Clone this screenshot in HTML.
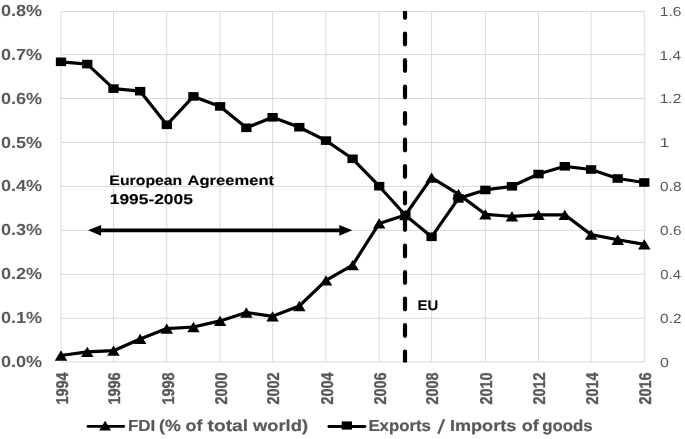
<!DOCTYPE html>
<html><head><meta charset="utf-8"><style>
html,body{margin:0;padding:0;background:#fff;width:685px;height:439px;overflow:hidden}
svg{display:block;will-change:transform;text-rendering:geometricPrecision}
text{font-family:"Liberation Sans",sans-serif}
</style></head><body>
<svg width="685" height="439" viewBox="0 0 685 439">
<defs><clipPath id="pc"><rect x="58.0" y="10.9" width="589.3" height="351.6"/></clipPath></defs>
<line x1="61.0" y1="361.90" x2="644.30" y2="361.90" stroke="#d9d9d9" stroke-width="1"/>
<line x1="61.0" y1="318.30" x2="644.30" y2="318.30" stroke="#d9d9d9" stroke-width="1"/>
<line x1="61.0" y1="274.40" x2="644.30" y2="274.40" stroke="#d9d9d9" stroke-width="1"/>
<line x1="61.0" y1="230.40" x2="644.30" y2="230.40" stroke="#d9d9d9" stroke-width="1"/>
<line x1="61.0" y1="186.40" x2="644.30" y2="186.40" stroke="#d9d9d9" stroke-width="1"/>
<line x1="61.0" y1="142.50" x2="644.30" y2="142.50" stroke="#d9d9d9" stroke-width="1"/>
<line x1="61.0" y1="98.50" x2="644.30" y2="98.50" stroke="#d9d9d9" stroke-width="1"/>
<line x1="61.0" y1="54.60" x2="644.30" y2="54.60" stroke="#d9d9d9" stroke-width="1"/>
<line x1="61.0" y1="11.50" x2="644.30" y2="11.50" stroke="#d9d9d9" stroke-width="1"/>
<line x1="61.00" y1="11.50" x2="61.00" y2="361.90" stroke="#d9d9d9" stroke-width="1"/>
<line x1="113.50" y1="11.50" x2="113.50" y2="361.90" stroke="#d9d9d9" stroke-width="1"/>
<line x1="166.80" y1="11.50" x2="166.80" y2="361.90" stroke="#d9d9d9" stroke-width="1"/>
<line x1="220.10" y1="11.50" x2="220.10" y2="361.90" stroke="#d9d9d9" stroke-width="1"/>
<line x1="272.60" y1="11.50" x2="272.60" y2="361.90" stroke="#d9d9d9" stroke-width="1"/>
<line x1="326.00" y1="11.50" x2="326.00" y2="361.90" stroke="#d9d9d9" stroke-width="1"/>
<line x1="379.20" y1="11.50" x2="379.20" y2="361.90" stroke="#d9d9d9" stroke-width="1"/>
<line x1="431.60" y1="11.50" x2="431.60" y2="361.90" stroke="#d9d9d9" stroke-width="1"/>
<line x1="485.40" y1="11.50" x2="485.40" y2="361.90" stroke="#d9d9d9" stroke-width="1"/>
<line x1="538.50" y1="11.50" x2="538.50" y2="361.90" stroke="#d9d9d9" stroke-width="1"/>
<line x1="591.10" y1="11.50" x2="591.10" y2="361.90" stroke="#d9d9d9" stroke-width="1"/>
<line x1="644.30" y1="11.50" x2="644.30" y2="361.90" stroke="#d9d9d9" stroke-width="1"/>
<line x1="405" y1="11.50" x2="405" y2="361.90" stroke="#000" stroke-width="4.2" stroke-linecap="round" stroke-dasharray="10.8 15.7" stroke-dashoffset="-22.00" clip-path="url(#pc)"/>
<polyline points="61.00,61.80 87.25,64.10 113.50,88.60 140.15,91.20 166.80,124.80 193.45,96.40 220.10,106.40 246.35,127.80 272.60,117.30 299.30,127.20 326.00,140.60 352.60,158.80 379.20,186.20 405.40,215.30 431.60,236.80 458.50,198.40 485.40,189.95 511.95,186.30 538.50,174.05 564.80,166.30 591.10,169.50 617.70,178.50 644.30,182.50" fill="none" stroke="#000" stroke-width="3.2" stroke-linejoin="round"/>
<polyline points="61.00,355.50 87.25,351.80 113.50,350.70 140.15,338.95 166.80,328.60 193.45,327.00 220.10,320.90 246.35,312.50 272.60,316.35 299.30,306.00 326.00,280.45 352.60,265.05 379.20,223.45 405.40,215.00 431.60,177.55 458.50,194.10 485.40,214.30 511.95,216.40 538.50,214.80 564.80,214.80 591.10,234.65 617.70,239.75 644.30,244.30" fill="none" stroke="#000" stroke-width="3.2" stroke-linejoin="round"/>
<rect x="55.85" y="57.50" width="10.3" height="8.6" fill="#000"/>
<rect x="82.10" y="59.80" width="10.3" height="8.6" fill="#000"/>
<rect x="108.35" y="84.30" width="10.3" height="8.6" fill="#000"/>
<rect x="135.00" y="86.90" width="10.3" height="8.6" fill="#000"/>
<rect x="161.65" y="120.50" width="10.3" height="8.6" fill="#000"/>
<rect x="188.30" y="92.10" width="10.3" height="8.6" fill="#000"/>
<rect x="214.95" y="102.10" width="10.3" height="8.6" fill="#000"/>
<rect x="241.20" y="123.50" width="10.3" height="8.6" fill="#000"/>
<rect x="267.45" y="113.00" width="10.3" height="8.6" fill="#000"/>
<rect x="294.15" y="122.90" width="10.3" height="8.6" fill="#000"/>
<rect x="320.85" y="136.30" width="10.3" height="8.6" fill="#000"/>
<rect x="347.45" y="154.50" width="10.3" height="8.6" fill="#000"/>
<rect x="374.05" y="181.90" width="10.3" height="8.6" fill="#000"/>
<rect x="400.25" y="211.00" width="10.3" height="8.6" fill="#000"/>
<rect x="426.45" y="232.50" width="10.3" height="8.6" fill="#000"/>
<rect x="453.35" y="194.10" width="10.3" height="8.6" fill="#000"/>
<rect x="480.25" y="185.65" width="10.3" height="8.6" fill="#000"/>
<rect x="506.80" y="182.00" width="10.3" height="8.6" fill="#000"/>
<rect x="533.35" y="169.75" width="10.3" height="8.6" fill="#000"/>
<rect x="559.65" y="162.00" width="10.3" height="8.6" fill="#000"/>
<rect x="585.95" y="165.20" width="10.3" height="8.6" fill="#000"/>
<rect x="612.55" y="174.20" width="10.3" height="8.6" fill="#000"/>
<rect x="639.15" y="178.20" width="10.3" height="8.6" fill="#000"/>
<path d="M61.00,350.35 L67.25,360.65 L54.75,360.65Z" fill="#000"/>
<path d="M87.25,346.65 L93.50,356.95 L81.00,356.95Z" fill="#000"/>
<path d="M113.50,345.55 L119.75,355.85 L107.25,355.85Z" fill="#000"/>
<path d="M140.15,333.80 L146.40,344.10 L133.90,344.10Z" fill="#000"/>
<path d="M166.80,323.45 L173.05,333.75 L160.55,333.75Z" fill="#000"/>
<path d="M193.45,321.85 L199.70,332.15 L187.20,332.15Z" fill="#000"/>
<path d="M220.10,315.75 L226.35,326.05 L213.85,326.05Z" fill="#000"/>
<path d="M246.35,307.35 L252.60,317.65 L240.10,317.65Z" fill="#000"/>
<path d="M272.60,311.20 L278.85,321.50 L266.35,321.50Z" fill="#000"/>
<path d="M299.30,300.85 L305.55,311.15 L293.05,311.15Z" fill="#000"/>
<path d="M326.00,275.30 L332.25,285.60 L319.75,285.60Z" fill="#000"/>
<path d="M352.60,259.90 L358.85,270.20 L346.35,270.20Z" fill="#000"/>
<path d="M379.20,218.30 L385.45,228.60 L372.95,228.60Z" fill="#000"/>
<path d="M405.40,209.85 L411.65,220.15 L399.15,220.15Z" fill="#000"/>
<path d="M431.60,172.40 L437.85,182.70 L425.35,182.70Z" fill="#000"/>
<path d="M458.50,188.95 L464.75,199.25 L452.25,199.25Z" fill="#000"/>
<path d="M485.40,209.15 L491.65,219.45 L479.15,219.45Z" fill="#000"/>
<path d="M511.95,211.25 L518.20,221.55 L505.70,221.55Z" fill="#000"/>
<path d="M538.50,209.65 L544.75,219.95 L532.25,219.95Z" fill="#000"/>
<path d="M564.80,209.65 L571.05,219.95 L558.55,219.95Z" fill="#000"/>
<path d="M591.10,229.50 L597.35,239.80 L584.85,239.80Z" fill="#000"/>
<path d="M617.70,234.60 L623.95,244.90 L611.45,244.90Z" fill="#000"/>
<path d="M644.30,239.15 L650.55,249.45 L638.05,249.45Z" fill="#000"/>
<line x1="96" y1="230.35" x2="342" y2="230.35" stroke="#000" stroke-width="3.9"/>
<path d="M88.0,230.35 L101.1,225.0 L101.1,235.7Z" fill="#000"/>
<path d="M352.3,230.35 L339.3,225.0 L339.3,235.7Z" fill="#000"/>
<g transform="translate(67.85,372.40) rotate(-90)"><text x="0.00" y="0.00" font-size="17" font-weight="bold" fill="#595959" stroke="#595959" stroke-width="0.35" textLength="32.20" lengthAdjust="spacingAndGlyphs" text-anchor="end">1994</text></g>
<g transform="translate(120.35,372.40) rotate(-90)"><text x="0.00" y="0.00" font-size="17" font-weight="bold" fill="#595959" stroke="#595959" stroke-width="0.35" textLength="32.20" lengthAdjust="spacingAndGlyphs" text-anchor="end">1996</text></g>
<g transform="translate(173.65,372.40) rotate(-90)"><text x="0.00" y="0.00" font-size="17" font-weight="bold" fill="#595959" stroke="#595959" stroke-width="0.35" textLength="32.20" lengthAdjust="spacingAndGlyphs" text-anchor="end">1998</text></g>
<g transform="translate(226.95,372.40) rotate(-90)"><text x="0.00" y="0.00" font-size="17" font-weight="bold" fill="#595959" stroke="#595959" stroke-width="0.35" textLength="32.20" lengthAdjust="spacingAndGlyphs" text-anchor="end">2000</text></g>
<g transform="translate(279.45,372.40) rotate(-90)"><text x="0.00" y="0.00" font-size="17" font-weight="bold" fill="#595959" stroke="#595959" stroke-width="0.35" textLength="32.20" lengthAdjust="spacingAndGlyphs" text-anchor="end">2002</text></g>
<g transform="translate(332.85,372.40) rotate(-90)"><text x="0.00" y="0.00" font-size="17" font-weight="bold" fill="#595959" stroke="#595959" stroke-width="0.35" textLength="32.20" lengthAdjust="spacingAndGlyphs" text-anchor="end">2004</text></g>
<g transform="translate(386.05,372.40) rotate(-90)"><text x="0.00" y="0.00" font-size="17" font-weight="bold" fill="#595959" stroke="#595959" stroke-width="0.35" textLength="32.20" lengthAdjust="spacingAndGlyphs" text-anchor="end">2006</text></g>
<g transform="translate(438.45,372.40) rotate(-90)"><text x="0.00" y="0.00" font-size="17" font-weight="bold" fill="#595959" stroke="#595959" stroke-width="0.35" textLength="32.20" lengthAdjust="spacingAndGlyphs" text-anchor="end">2008</text></g>
<g transform="translate(492.25,372.40) rotate(-90)"><text x="0.00" y="0.00" font-size="17" font-weight="bold" fill="#595959" stroke="#595959" stroke-width="0.35" textLength="32.20" lengthAdjust="spacingAndGlyphs" text-anchor="end">2010</text></g>
<g transform="translate(545.35,372.40) rotate(-90)"><text x="0.00" y="0.00" font-size="17" font-weight="bold" fill="#595959" stroke="#595959" stroke-width="0.35" textLength="32.20" lengthAdjust="spacingAndGlyphs" text-anchor="end">2012</text></g>
<g transform="translate(597.95,372.40) rotate(-90)"><text x="0.00" y="0.00" font-size="17" font-weight="bold" fill="#595959" stroke="#595959" stroke-width="0.35" textLength="32.20" lengthAdjust="spacingAndGlyphs" text-anchor="end">2014</text></g>
<g transform="translate(651.15,372.40) rotate(-90)"><text x="0.00" y="0.00" font-size="17" font-weight="bold" fill="#595959" stroke="#595959" stroke-width="0.35" textLength="32.20" lengthAdjust="spacingAndGlyphs" text-anchor="end">2016</text></g>
<text x="128.00" y="431.40" font-size="16.0" font-weight="bold" fill="#595959" stroke="#595959" stroke-width="0.2" textLength="27.25" lengthAdjust="spacingAndGlyphs">FDI</text>
<text x="159.06" y="431.40" font-size="16.0" font-weight="bold" fill="#595959" stroke="#595959" stroke-width="0.2" textLength="21.72" lengthAdjust="spacingAndGlyphs">(%</text>
<text x="185.50" y="431.40" font-size="16.0" font-weight="bold" fill="#595959" stroke="#595959" stroke-width="0.2" textLength="16.86" lengthAdjust="spacingAndGlyphs">of</text>
<text x="207.64" y="431.40" font-size="16.0" font-weight="bold" fill="#595959" stroke="#595959" stroke-width="0.2" textLength="40.51" lengthAdjust="spacingAndGlyphs">total</text>
<text x="253.06" y="431.40" font-size="16.0" font-weight="bold" fill="#595959" stroke="#595959" stroke-width="0.2" textLength="54.94" lengthAdjust="spacingAndGlyphs">world)</text>
<text x="368.42" y="431.40" font-size="16.0" font-weight="bold" fill="#595959" stroke="#595959" stroke-width="0.2" textLength="62.54" lengthAdjust="spacingAndGlyphs">Exports</text>
<line x1="444.1" y1="419.2" x2="438.3" y2="433.8" stroke="#595959" stroke-width="2.3"/>
<text x="449.99" y="431.40" font-size="16.0" font-weight="bold" fill="#595959" stroke="#595959" stroke-width="0.2" textLength="66.27" lengthAdjust="spacingAndGlyphs">Imports</text>
<text x="521.65" y="431.40" font-size="16.0" font-weight="bold" fill="#595959" stroke="#595959" stroke-width="0.2" textLength="17.07" lengthAdjust="spacingAndGlyphs">of</text>
<text x="542.34" y="431.40" font-size="16.0" font-weight="bold" fill="#595959" stroke="#595959" stroke-width="0.2" textLength="50.33" lengthAdjust="spacingAndGlyphs">goods</text>
<text x="109.38" y="184.90" font-size="13.8" font-weight="bold" fill="#000" stroke="#000" stroke-width="0.12" textLength="72.91" lengthAdjust="spacingAndGlyphs">European</text>
<text x="187.45" y="184.90" font-size="13.8" font-weight="bold" fill="#000" stroke="#000" stroke-width="0.12" textLength="86.63" lengthAdjust="spacingAndGlyphs">Agreement</text>
<text x="109.72" y="203.70" font-size="14.2" font-weight="bold" fill="#000" stroke="#000" stroke-width="0.12" textLength="83.16" lengthAdjust="spacingAndGlyphs">1995-2005</text>
<text x="417.46" y="309.50" font-size="14.0" font-weight="bold" fill="#000" stroke="#000" stroke-width="0.12" textLength="20.69" lengthAdjust="spacingAndGlyphs">EU</text>
<text x="0.93" y="367.00" font-size="16.0" font-weight="bold" fill="#595959" textLength="41.19" lengthAdjust="spacingAndGlyphs">0.0%</text>
<text x="0.93" y="323.00" font-size="16.0" font-weight="bold" fill="#595959" textLength="41.19" lengthAdjust="spacingAndGlyphs">0.1%</text>
<text x="0.93" y="279.00" font-size="16.0" font-weight="bold" fill="#595959" textLength="41.19" lengthAdjust="spacingAndGlyphs">0.2%</text>
<text x="0.93" y="235.00" font-size="16.0" font-weight="bold" fill="#595959" textLength="41.19" lengthAdjust="spacingAndGlyphs">0.3%</text>
<text x="0.93" y="191.00" font-size="16.0" font-weight="bold" fill="#595959" textLength="41.19" lengthAdjust="spacingAndGlyphs">0.4%</text>
<text x="0.93" y="148.00" font-size="16.0" font-weight="bold" fill="#595959" textLength="41.19" lengthAdjust="spacingAndGlyphs">0.5%</text>
<text x="0.93" y="104.00" font-size="16.0" font-weight="bold" fill="#595959" textLength="41.19" lengthAdjust="spacingAndGlyphs">0.6%</text>
<text x="0.93" y="60.00" font-size="16.0" font-weight="bold" fill="#595959" textLength="41.19" lengthAdjust="spacingAndGlyphs">0.7%</text>
<text x="0.93" y="16.00" font-size="16.0" font-weight="bold" fill="#595959" textLength="41.19" lengthAdjust="spacingAndGlyphs">0.8%</text>
<text x="660.12" y="367.00" font-size="13.2" font-weight="normal" fill="#595959" textLength="8.96" lengthAdjust="spacingAndGlyphs">0</text>
<text x="660.12" y="323.00" font-size="13.2" font-weight="normal" fill="#595959" textLength="21.35" lengthAdjust="spacingAndGlyphs">0.2</text>
<text x="660.16" y="279.00" font-size="13.2" font-weight="normal" fill="#595959" textLength="20.81" lengthAdjust="spacingAndGlyphs">0.4</text>
<text x="660.12" y="235.00" font-size="13.2" font-weight="normal" fill="#595959" textLength="21.36" lengthAdjust="spacingAndGlyphs">0.6</text>
<text x="660.12" y="191.00" font-size="13.2" font-weight="normal" fill="#595959" textLength="21.35" lengthAdjust="spacingAndGlyphs">0.8</text>
<text x="659.58" y="147.00" font-size="13.2" font-weight="normal" fill="#595959" textLength="9.82" lengthAdjust="spacingAndGlyphs">1</text>
<text x="659.73" y="103.00" font-size="13.2" font-weight="normal" fill="#595959" textLength="21.65" lengthAdjust="spacingAndGlyphs">1.2</text>
<text x="659.58" y="60.00" font-size="13.2" font-weight="normal" fill="#595959" textLength="21.48" lengthAdjust="spacingAndGlyphs">1.4</text>
<text x="659.74" y="16.00" font-size="13.2" font-weight="normal" fill="#595959" textLength="21.65" lengthAdjust="spacingAndGlyphs">1.6</text>
<line x1="88.0" y1="426.4" x2="123.7" y2="426.4" stroke="#000" stroke-width="2.9" stroke-linecap="round"/>
<path d="M105.15,420.8 L111.1,430.6 L99.2,430.6Z" fill="#000"/>
<line x1="328.9" y1="426.5" x2="364.9" y2="426.5" stroke="#000" stroke-width="2.9" stroke-linecap="round"/>
<rect x="341.7" y="421.4" width="10.3" height="8.2" fill="#000"/>
</svg>
</body></html>
